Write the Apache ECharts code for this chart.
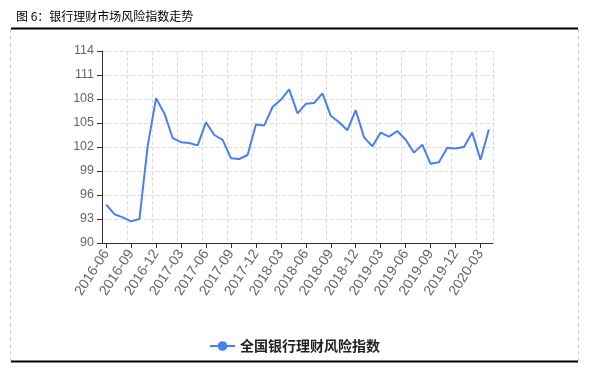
<!DOCTYPE html>
<html>
<head>
<meta charset="utf-8">
<script src="https://cdn.jsdelivr.net/npm/echarts@6/dist/echarts.min.js"></script>
<style>
html,body{margin:0;padding:0;background:#fff;}
#chart{width:589px;height:372px;}
</style>
</head>
<body>
<div id="chart"></div>
<script>
var categories = [
  '2016-06','2016-07','2016-08','2016-09','2016-10','2016-11','2016-12',
  '2017-01','2017-02','2017-03','2017-04','2017-05','2017-06','2017-07','2017-08','2017-09','2017-10','2017-11','2017-12',
  '2018-01','2018-02','2018-03','2018-04','2018-05','2018-06','2018-07','2018-08','2018-09','2018-10','2018-11','2018-12',
  '2019-01','2019-02','2019-03','2019-04','2019-05','2019-06','2019-07','2019-08','2019-09','2019-10','2019-11','2019-12',
  '2020-01','2020-02','2020-03','2020-04'
];
var riskIndex = [
  94.8, 93.6, 93.2, 92.7, 93.0, 102.2, 108.1,
  106.2, 103.1, 102.6, 102.5, 102.2, 105.1, 103.5, 102.9, 100.6, 100.5, 101.0, 104.8,
  104.7, 107.0, 107.9, 109.2, 106.2, 107.4, 107.5, 108.7, 105.9, 105.1, 104.1, 106.6,
  103.2, 102.1, 103.8, 103.3, 104.0, 102.9, 101.3, 102.3, 99.9, 100.1, 101.9, 101.8,
  102.0, 103.8, 100.4, 104.2
];
var seriesName = '全国银行理财风险指数';
var titleText = '图 6：银行理财市场风险指数走势';
var yMin = 90, yMax = 114, yStep = 3;

var chart = echarts.init(document.getElementById('chart'));
chart.setOption({
  animation: false,
  title: {
    text: titleText,
    left: 11, top: 5,
    textStyle: { fontSize: 12, fontWeight: 'normal', color: '#000', fontFamily: 'Noto Sans CJK SC' }
  },
  graphic: [
    { type: 'line', shape: { x1: 11, y1: 28.5, x2: 578, y2: 28.5 }, style: { stroke: '#000', lineWidth: 2 } },
    { type: 'line', shape: { x1: 11, y1: 361.5, x2: 578, y2: 361.5 }, style: { stroke: '#000', lineWidth: 2 } },
    { type: 'line', shape: { x1: 10.5, y1: 29, x2: 10.5, y2: 361 }, style: { stroke: '#ccc', lineWidth: 1, lineDash: [4, 3] } },
    { type: 'line', shape: { x1: 578.5, y1: 29, x2: 578.5, y2: 361 }, style: { stroke: '#ccc', lineWidth: 1, lineDash: [4, 3] } }
  ],
  grid: { left: 102, right: 96, top: 51, bottom: 129 },
  legend: {
    data: [seriesName],
    top: 334,
    left: 'center',
    itemWidth: 25,
    itemHeight: 12,
    textStyle: { fontSize: 14, fontWeight: 'bold', color: '#222', fontFamily: 'Noto Sans CJK SC' }
  },
  xAxis: {
    type: 'category',
    data: categories,
    boundaryGap: true,
    axisLine: { show: true, lineStyle: { color: '#333' } },
    axisTick: { show: true, alignWithLabel: true, interval: 2, lineStyle: { color: '#333' } },
    axisLabel: { interval: 2, rotate: 57, fontSize: 14, color: '#666', fontFamily: 'Arial, Liberation Sans' },
    splitLine: { show: true, interval: 2, lineStyle: { type: 'dashed', color: '#ddd' } }
  },
  yAxis: {
    type: 'value',
    min: yMin, max: yMax, interval: yStep,
    axisLine: { show: true, lineStyle: { color: '#333' } },
    axisTick: { show: true, lineStyle: { color: '#333' } },
    axisLabel: { fontSize: 12.5, color: '#666', fontFamily: 'Arial, Liberation Sans' },
    splitLine: { show: true, lineStyle: { type: 'dashed', color: '#ddd' } }
  },
  series: [{
    name: seriesName,
    type: 'line',
    data: riskIndex,
    symbol: 'circle',
    showSymbol: false,
    lineStyle: { width: 2, color: '#4a7ff0' },
    itemStyle: { color: '#4a7ff0' }
  }]
});
</script>
</body>
</html>
